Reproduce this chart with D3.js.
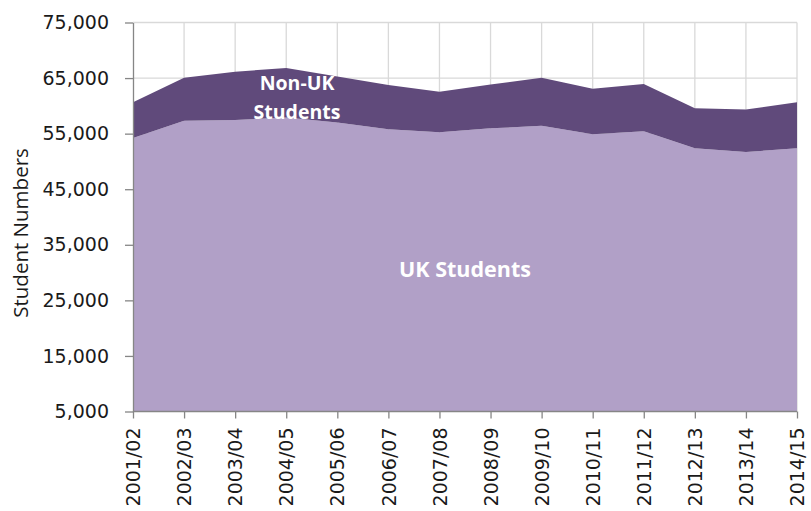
<!DOCTYPE html>
<html><head><meta charset="utf-8">
<script src="https://cdn.jsdelivr.net/npm/d3@7"></script>
<style>body{margin:0;background:#fff}svg{display:block}</style>
</head><body>
<svg id="c" width="811" height="511"></svg>
<script>
const categories = ["2001/02","2002/03","2003/04","2004/05","2005/06","2006/07","2007/08","2008/09","2009/10","2010/11","2011/12","2012/13","2013/14","2014/15"];
const ukStudents = [54200,57300,57450,57900,57000,55800,55250,55950,56400,54900,55450,52350,51700,52350];
const nonUkStudents = [6450,7750,8700,8900,8300,7950,7300,7900,8650,8200,8500,7200,7650,8300];
const yTicks = [5000,15000,25000,35000,45000,55000,65000,75000];

const svg = d3.select("#c");
const font = "DejaVu Sans, sans-serif";
const L = 133, R = 797, T = 22.5, B = 411.5;
const x = d3.scalePoint().domain(categories).range([L, R]);
const y = d3.scaleLinear().domain([5000, 75000]).range([B, T]);

const rows = categories.map((c, i) => ({c, uk: ukStudents[i], non: nonUkStudents[i]}));
const stack = d3.stack().keys(["uk","non"])(rows);

// gridlines
const g = svg.append("g");
g.selectAll(".hg").data(yTicks.slice(1)).join("line")
  .attr("x1", L).attr("x2", R).attr("y1", d => y(d)).attr("y2", d => y(d))
  .attr("stroke", "#d9d9d9").attr("stroke-width", 1.3);
g.selectAll(".vg").data(categories.slice(1)).join("line")
  .attr("x1", d => x(d)).attr("x2", d => x(d)).attr("y1", T).attr("y2", B)
  .attr("stroke", "#d9d9d9").attr("stroke-width", 1.3);

const colors = {uk: "#b1a0c7", non: "#604a7b"};
const area = d3.area().x(d => x(d.data.c)).y0(d => y(d[0])).y1(d => y(d[1]));
const area0 = d3.area().x(d => x(d.data.c)).y0(B).y1(d => y(d[1]));
svg.append("path").datum(stack[0]).attr("d", area0).attr("fill", colors.uk);
svg.append("path").datum(stack[1]).attr("d", area).attr("fill", colors.non);

// axes
const ya = svg.append("g").attr("transform", `translate(${L},0)`)
  .call(d3.axisLeft(y).tickValues(yTicks).tickSize(8).tickSizeOuter(0).tickPadding(16).tickFormat(d3.format(",")));
ya.selectAll("text").attr("font-family", font).attr("font-size", 19).attr("fill", "#1a1a1a");
ya.selectAll("line, path").attr("stroke", "#868686").attr("stroke-width", 1.3);

const xa = svg.append("g").attr("transform", `translate(0,${B})`)
  .call(d3.axisBottom(x).tickSize(7).tickSizeOuter(0).tickPadding(0));
xa.select("path").attr("d", `M${L},0H${R}`);
xa.selectAll("line, path").attr("stroke", "#868686").attr("stroke-width", 1.3);
xa.selectAll("text").attr("font-family", font).attr("font-size", 19).attr("fill", "#1a1a1a")
  .attr("transform", "rotate(-90)").attr("text-anchor", "end")
  .attr("x", -16).attr("y", 0).attr("dy", "0.35em");

svg.append("text").attr("transform", "translate(28,233) rotate(-90)")
  .attr("text-anchor", "middle").attr("font-family", "Open Sans, sans-serif").attr("font-size", 20.5)
  .attr("fill", "#1a1a1a").text("Student Numbers");

// labels
const lab = svg.append("g").attr("font-family", "Open Sans, sans-serif").attr("font-weight", "bold")
  .attr("fill", "#fff").attr("text-anchor", "middle");
lab.append("text").attr("x", 297).attr("y", 90).attr("font-size", 19.5).text("Non-UK");
lab.append("text").attr("x", 297).attr("y", 119).attr("font-size", 19.5).text("Students");
lab.append("text").attr("x", 465).attr("y", 277).attr("font-size", 21.5).text("UK Students");
</script>
</body></html>
